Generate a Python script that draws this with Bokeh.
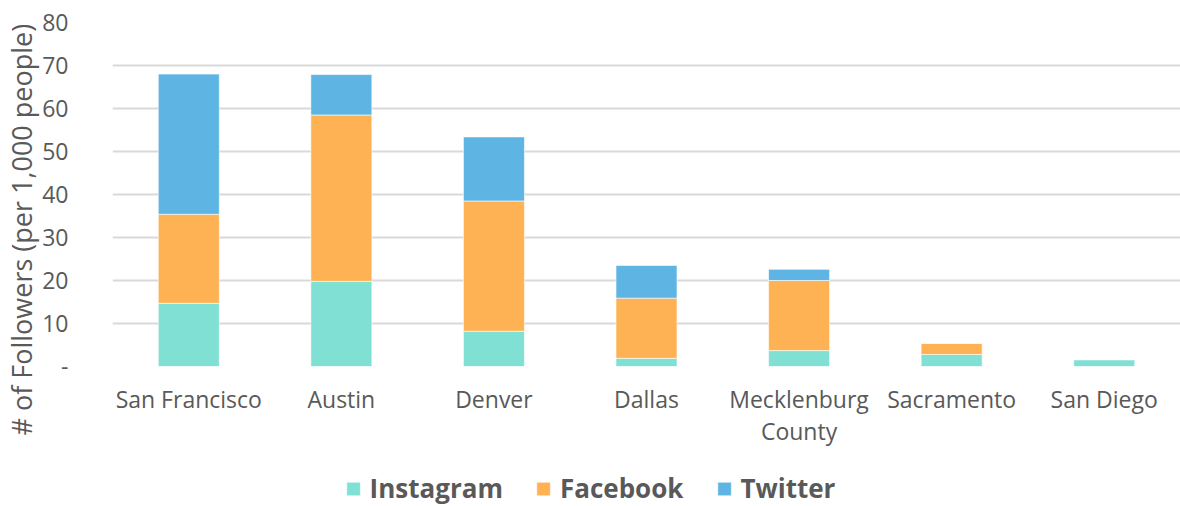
from bokeh.plotting import figure
from bokeh.models import FactorRange, Range1d, FixedTicker, Legend, LegendItem, ColumnDataSource, Title
from bokeh.layouts import column
from bokeh.embed import file_html
from bokeh.resources import INLINE

cities = ["San Francisco", "Austin", "Denver", "Dallas", "Mecklenburg\nCounty", "Sacramento", "San Diego"]
instagram = [14.7, 19.8, 8.2, 1.9, 3.7, 2.8, 1.6]
facebook = [20.7, 38.7, 30.3, 14.0, 16.3, 2.6, 0.0]
twitter = [32.6, 9.4, 14.9, 7.6, 2.6, 0.0, 0.0]
series = ["Instagram", "Facebook", "Twitter"]
colors = ["#80E0D4", "#FFB253", "#5EB5E3"]
y_ticks = [0, 10, 20, 30, 40, 50, 60, 70, 80]
y_title = "# of Followers (per 1,000 people)"

source = ColumnDataSource(data=dict(city=cities, Instagram=instagram, Facebook=facebook, Twitter=twitter))

FONT = "Open Sans"
GRAY = "#595959"

x_range = FactorRange(*cities, range_padding=0)

p = figure(x_range=x_range, y_range=Range1d(0, 80),
           frame_width=1068, frame_height=344, output_backend="svg", toolbar_location=None,
           min_border_left=112, min_border_right=0, min_border_top=22, min_border_bottom=104)

p.vbar_stack(series, x="city", width=0.4, color=colors, source=source,
             line_color="white", line_width=0.6)

p.outline_line_color = None
p.background_fill_color = "white"

p.xgrid.grid_line_color = None
p.ygrid.grid_line_color = "#D9D9D9"
p.ygrid.grid_line_width = 1.8
p.ygrid.ticker = FixedTicker(ticks=y_ticks)
p.ygrid.level = "underlay"

p.yaxis.ticker = FixedTicker(ticks=y_ticks)
p.yaxis.major_label_overrides = {0: "-"}
p.yaxis.axis_line_color = None
p.yaxis.major_tick_line_color = None
p.yaxis.minor_tick_line_color = None
p.yaxis.major_label_standoff = 38
p.yaxis.major_label_text_font = FONT
p.yaxis.major_label_text_font_size = "23px"
p.yaxis.major_label_text_color = GRAY

ytitle = Title(text=y_title, align="left", offset=-69, text_font=FONT, text_font_size="27px",
               text_font_style="normal", text_color=GRAY, standoff=0)
p.add_layout(ytitle, "left")

p.xaxis.axis_line_color = None
p.xaxis.major_tick_line_color = None
p.xaxis.minor_tick_line_color = None
p.xaxis.major_label_standoff = 10
p.xaxis.major_label_text_font = FONT
p.xaxis.major_label_text_font_size = "23px"
p.xaxis.major_label_text_line_height = 1.03
p.xaxis.major_label_text_color = GRAY

# legend strip below the chart
p2 = figure(x_range=x_range, y_range=Range1d(1000, 1001),
            frame_width=1180, frame_height=36, output_backend="svg", toolbar_location=None,
            min_border=0)
p2.xaxis.visible = False
p2.yaxis.visible = False
p2.xgrid.visible = False
p2.ygrid.visible = False
p2.outline_line_color = None
legend_renderers = p2.vbar_stack(series, x="city", width=0.4, color=colors, source=source,
                                 line_color="white", line_width=0.6)

legend = Legend(items=[LegendItem(label=s, renderers=[r]) for s, r in zip(series, legend_renderers)],
                orientation="horizontal", location="center",
                label_text_font=FONT, label_text_font_size="26px", label_text_font_style="bold",
                label_text_color=GRAY, glyph_width=17, glyph_height=17, spacing=32,
                label_standoff=8, border_line_color=None, background_fill_alpha=0,
                padding=0, margin=0)
p2.add_layout(legend, "center")

layout = column(p, p2, spacing=0)
open("out.html", "w").write(file_html(layout, INLINE))
